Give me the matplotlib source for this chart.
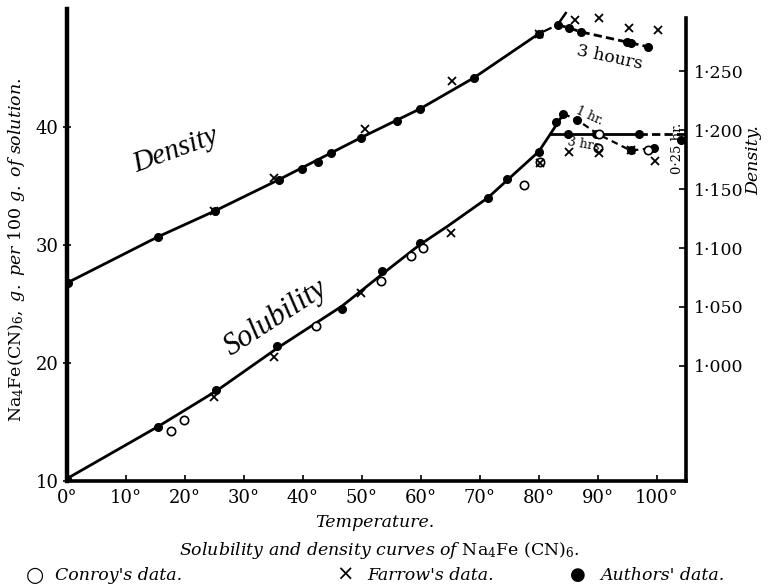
import matplotlib.pyplot as plt

plt.rcParams['font.family'] = 'DejaVu Serif'
plt.rcParams['mathtext.fontset'] = 'dejavuserif'

# solubility, g per 100 g of solution (left axis)
sol_auth_t = [0, 15.4, 25.3, 35.7, 46.6, 53.4, 59.8, 71.4, 74.7, 80.0, 82.9, 84.2, 86.5,
              84.9, 89.8, 97.0, 95.6, 99.5, 104.1]
sol_auth_v = [10.2, 14.6, 17.7, 21.4, 24.6, 27.8, 30.2, 34.0, 35.6, 37.9, 40.4, 41.1, 40.6,
              39.4, 39.4, 39.4, 38.0, 38.2, 38.9]
sol_conroy_t = [17.6, 19.8, 42.2, 53.2, 58.3, 60.3, 77.5, 80.3, 90.0, 98.5, 90.2]
sol_conroy_v = [14.2, 15.2, 23.1, 26.9, 29.1, 29.7, 35.1, 37.0, 38.2, 38.0, 39.4]
sol_farrow_t = [24.9, 35.1, 49.8, 65.1, 80.3, 85.1, 90.2, 95.6, 99.8]
sol_farrow_v = [17.1, 20.5, 25.9, 31.0, 36.9, 37.9, 37.8, 38.0, 37.1]

sol_curve_t = [0, 15.4, 25.4, 35.8, 46.6, 53.4, 59.8, 64.6, 71.4, 74.7, 80.0, 82.0, 84.2]
sol_curve_v = [10.2, 14.6, 17.65, 21.3, 24.8, 27.5, 30.0, 31.6, 34.0, 35.5, 37.9, 39.4, 41.1]
sol_flat_t = [82.0, 97.0]
sol_flat_dash_t = [97.0, 105.0]
sol_flat_v = 39.4
sol_1hr_t = [84.2, 86.5, 90.0, 95.6, 99.5]
sol_1hr_v = [41.1, 40.6, 39.4, 38.0, 38.2]

# density (right axis)
den_auth_t = [0.2, 15.4, 25.1, 35.9, 39.8, 42.5, 44.7, 49.8, 55.9, 59.8, 69.0, 80.0,
              83.2, 85.1, 87.1, 95.0, 95.6, 98.6]
den_auth_v = [1.0704, 1.1095, 1.1316, 1.1578, 1.1672, 1.1731, 1.1809, 1.1936, 1.2079,
              1.2179, 1.2445, 1.2819, 1.2895, 1.2870, 1.2836, 1.2748, 1.2742, 1.2708]
den_farrow_t = [25.0, 35.1, 50.5, 65.3, 80.0, 86.1, 90.2, 95.3, 100.3]
den_farrow_v = [1.1316, 1.1596, 1.2012, 1.2420, 1.2820, 1.2938, 1.2955, 1.2870, 1.2851]

den_curve_t = [0, 15.4, 25.1, 35.9, 49.8, 59.8, 69.0, 80.0]
den_curve_v = [1.0704, 1.1095, 1.1316, 1.1580, 1.1936, 1.2180, 1.2445, 1.2819]
den_dashdot_t = [80.0, 83.2]
den_dashdot_v = [1.2819, 1.2895]
den_tip_t = [83.2, 84.6]
den_tip_v = [1.2895, 1.2995]
den_3h_t = [83.2, 85.1, 87.1, 95.6, 98.6]
den_3h_v = [1.2895, 1.2870, 1.2836, 1.2742, 1.2708]

xticks = list(range(0, 101, 10))
yticks = [10, 20, 30, 40]
dticks = [1.000, 1.050, 1.100, 1.150, 1.200, 1.250]

fig = plt.figure(figsize=(7.7, 5.88), dpi=100)
ax = fig.add_axes([0.087, 0.182, 0.804, 0.803])
ax2 = ax.twinx()

k = 'black'
ax.plot(sol_curve_t, sol_curve_v, color=k, lw=2)
ax.plot(sol_flat_t, [sol_flat_v] * 2, color=k, lw=2)
ax.plot(sol_flat_dash_t, [sol_flat_v] * 2, color=k, lw=2, ls=(0, (3, 1.5)))
ax.plot(sol_1hr_t, sol_1hr_v, color=k, lw=1.6, ls=(0, (3, 2)))
ax.plot(sol_auth_t, sol_auth_v, 'o', color=k, ms=5.5)
ax.plot(sol_conroy_t, sol_conroy_v, 'o', mfc='white', mec=k, mew=1.2, ms=6)
ax.plot(sol_farrow_t, sol_farrow_v, 'x', color=k, mew=1.3, ms=6)

ax2.plot(den_curve_t, den_curve_v, color=k, lw=2)
ax2.plot(den_dashdot_t, den_dashdot_v, color=k, lw=1.6, ls='-.')
ax2.plot(den_tip_t, den_tip_v, color=k, lw=1.8)
ax2.plot(den_3h_t, den_3h_v, color=k, lw=2, ls=(0, (3, 1.5)))
ax2.plot(den_auth_t, den_auth_v, 'o', color=k, ms=5.5)
ax2.plot(den_farrow_t, den_farrow_v, 'x', color=k, mew=1.3, ms=6)

ax.set_xlim(0, 105)
ax.set_ylim(10, 50)
ax2.set_ylim(0.9023, 1.3031)

for s in ['top', 'right']:
    ax.spines[s].set_visible(False)
for s in ['top', 'left', 'bottom']:
    ax2.spines[s].set_visible(False)
ax.spines['left'].set_linewidth(3.2)
ax.spines['bottom'].set_linewidth(2.6)
ax2.spines['right'].set_linewidth(2.6)
ax2.spines['right'].set_bounds(0.9023, 1.2955)

ax.set_xticks(xticks)
ax.set_xticklabels([f'{t}°' for t in xticks], fontsize=13)
ax.set_yticks(yticks)
ax.set_yticklabels([str(v) for v in yticks], fontsize=13)
ax2.set_yticks(dticks)
ax2.set_yticklabels([f'{d:.3f}'.replace('.', '·') for d in dticks], fontsize=12.5)
ax.tick_params(axis='x', direction='in', length=4, width=1.2, pad=6)
ax.tick_params(axis='y', direction='inout', length=6, width=1.2, pad=3)
ax2.tick_params(axis='y', direction='in', length=5, width=1.2, pad=6)

# curve labels
ax.text(18.5, 38.0, 'Density', fontsize=21, style='italic', family='Liberation Serif',
        rotation=20, ha='center', va='center')
ax.text(35.4, 23.8, 'Solubility', fontsize=22, style='italic', family='Liberation Serif',
        rotation=33, ha='center', va='center')
ax.text(92.0, 45.9, '3 hours', fontsize=12.5, rotation=-12, ha='center', va='center')
ax.text(88.6, 40.9, '1 hr.', fontsize=9, rotation=-25, ha='center', va='center')
ax.text(88.0, 38.5, '3 hrs.', fontsize=9, rotation=-10, ha='center', va='center')
ax.text(103.6, 38.2, '0·25 hr.', fontsize=9.5, rotation=90, ha='center', va='center')

ax.set_ylabel(r'$\mathrm{Na_4Fe(CN)_6},\ \mathit{g.\ per\ 100\ g.\ of\ solution.}$',
              fontsize=12.5, labelpad=4)
ax2.set_ylabel('Density.', fontsize=12.5, style='italic', labelpad=4)
ax2.yaxis.set_label_coords(1.095, 0.68)
ax.yaxis.set_label_coords(-0.065, 0.49)

fig.text(0.487, 0.112, 'Temperature.', fontsize=12.5, style='italic', ha='center', va='center')
fig.text(0.493, 0.064, r'$\mathit{Solubility\ and\ density\ curves\ of}\ \mathrm{Na_4Fe\ (CN)_6.}$',
         fontsize=12.5, ha='center', va='center')

leg_y = 0.022
fig.text(0.046, leg_y, '○', fontsize=15, family='DejaVu Sans', ha='center', va='center')
fig.text(0.072, leg_y, "Conroy's data.", fontsize=12.5, style='italic', va='center')
fig.text(0.448, leg_y, '×', fontsize=15, family='DejaVu Sans', ha='center', va='center')
fig.text(0.477, leg_y, "Farrow's data.", fontsize=12.5, style='italic', va='center')
fig.text(0.750, leg_y, '●', fontsize=13, family='DejaVu Sans', ha='center', va='center')
fig.text(0.780, leg_y, "Authors' data.", fontsize=12.5, style='italic', va='center')

fig.savefig('out.png', dpi=100)
